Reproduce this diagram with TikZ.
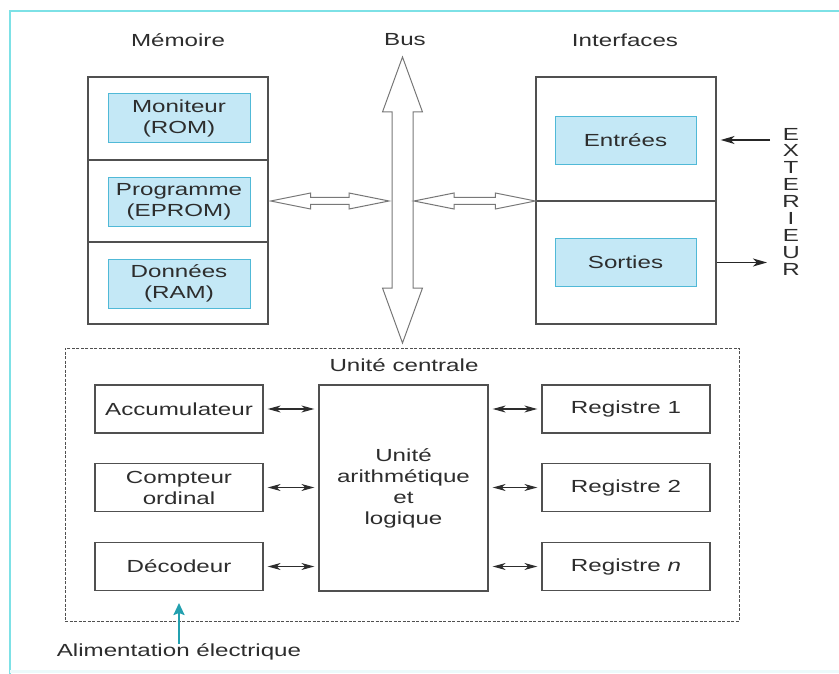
\documentclass[tikz,border=0pt]{standalone}
\usepackage{fontspec}
\setmainfont{Liberation Sans}[FakeStretch=1.38]
\usetikzlibrary{arrows.meta,calc}
\definecolor{framecyan}{RGB}{125,225,230}
\definecolor{boxfill}{RGB}{196,232,246}
\definecolor{boxline}{RGB}{80,185,215}
\definecolor{txtgray}{RGB}{45,45,45}
\definecolor{linegray}{RGB}{80,80,80}
\definecolor{fatgray}{RGB}{120,120,120}
\definecolor{powteal}{RGB}{35,160,175}
\tikzset{
  box/.style={draw=linegray, line width=1.3pt, inner sep=0pt, align=center, text=txtgray},
  cyanbox/.style={box, draw=boxline, line width=0.8pt, fill=boxfill, minimum width=142pt, minimum height=49pt},
  unitbox/.style={box, minimum width=168pt, minimum height=48pt},
  lbl/.style={inner sep=0pt, text=txtgray},
  fatline/.style={draw=fatgray, line width=1pt, line join=miter},
  fatdbl/.style={fatline, to path={let \p1=(\tikztostart), \p2=(\tikztotarget) in
    (\x1,\y1) -- (\x1+40pt,\y1+8pt) -- (\x1+40pt,\y1+3.5pt) -- (\x2-40pt,\y1+3.5pt)
    -- (\x2-40pt,\y1+8pt) -- (\x2,\y1) -- (\x2-40pt,\y1-8pt) -- (\x2-40pt,\y1-3.5pt)
    -- (\x1+40pt,\y1-3.5pt) -- (\x1+40pt,\y1-8pt) -- cycle}},
  smallarr/.style={<->, line width=1.2pt, draw=txtgray, shorten <=4pt, shorten >=4pt},
  extarr/.style={-{Stealth[length=14pt,width=8pt,inset=4pt]}, line width=1.4pt, draw=black!85},
}

\begin{document}
\begin{tikzpicture}[x=1pt,y=-1pt,line cap=butt,
  >={Stealth[length=13pt,width=7pt,inset=4pt]},
  font=\fontsize{17.5}{21}\selectfont]
\useasboundingbox (0,0) rectangle (839,674);
% frame
\draw[framecyan, line width=2.5pt] (10,674) -- (10,11) -- (839,11);
\draw[framecyan!15, line width=3pt] (10,671) -- (839,671);

% titles
\node[lbl] (memlbl) at (178,40) {Mémoire};
\node[lbl] (buslbl) at (405,40) {Bus};
\node[lbl] (intlbl) at (625,40) {Interfaces};

% memoire
\node[box, minimum width=180pt, minimum height=83pt] (mem1) at (178,118.5) {};
\node[box, minimum width=180pt, minimum height=82pt] (mem2) at (178,201) {};
\node[box, minimum width=180pt, minimum height=82pt] (mem3) at (178,283) {};
\node[cyanbox] (rom) at (179,118) {Moniteur\\(ROM)};
\node[cyanbox] (eprom) at (179,201.5) {Programme\\(EPROM)};
\node[cyanbox] (ram) at (179,283.5) {Données\\(RAM)};

% interfaces
\node[box, minimum width=180pt, minimum height=124pt] (int1) at (626,139) {};
\node[box, minimum width=180pt, minimum height=123pt] (int2) at (626,262.5) {};
\node[cyanbox, minimum width=141pt, minimum height=48pt] (ent) at (625.5,140) {Entrées};
\node[cyanbox, minimum width=141pt, minimum height=48pt] (sor) at (625.5,262) {Sorties};

% exterieur
\foreach \l [count=\i from 0] in {E,X,T,E,R,I,E,U,R}
  \node[lbl] (ext\i) at (791,134+16.9*\i) {\l};
\coordinate (extin) at (770,140);
\coordinate (extout) at (767,262.5);
\draw[extarr, shorten >=4pt] (extin) -- (ent -| int1.east);
\draw[extarr] (int2.east) -- (extout);

% bus
\coordinate (bustop) at (402.5,57);
\coordinate (busbot) at (402.5,343);
\coordinate (busL) at (389,201);
\coordinate (busR) at (414,201);
\draw[fatline] let \p1=(bustop), \p2=(busbot) in
  (\x1,\y1) -- (\x1+20pt,\y1-55pt) -- (\x1+10.5pt,\y1-55pt) -- (\x1+10.5pt,\y2+55pt)
  -- (\x1+20pt,\y2+55pt) -- (\x2,\y2) -- (\x1-20pt,\y2+55pt) -- (\x1-10.5pt,\y2+55pt)
  -- (\x1-10.5pt,\y1-55pt) -- (\x1-20pt,\y1-55pt) -- cycle;
\draw[fatdbl] ($(mem2.east)+(2,0)$) to (busL);
\draw[fatdbl] (busR) to (int1.south west);

% unite centrale
\node[draw=linegray, line width=1pt, dash pattern=on 3pt off 1.5pt,
  minimum width=674pt, minimum height=273pt, inner sep=0pt] (cpu) at (402,484.5) {};
\node[lbl] (cpulbl) at (404,365) {Unité centrale};
\node[unitbox] (acc) at (179,409) {Accumulateur};
\node[unitbox] (cpt) at (179,487.5) {Compteur\\ordinal};
\node[unitbox] (dec) at (179,566.5) {Décodeur};
\node[box, minimum width=169pt, minimum height=206pt] (alu) at (403.5,488)
  {Unité\\arithmétique\\et\\logique};
\node[unitbox] (reg1) at (626,409) {Registre 1};
\node[unitbox] (reg2) at (626,487.5) {Registre 2};
\node[unitbox] (regn) at (626,566.5) {Registre \textit{n}};
\foreach \b in {acc,cpt,dec}
  \draw[smallarr] (\b.east) -- (\b.east -| alu.west);
\foreach \b in {reg1,reg2,regn}
  \draw[smallarr] (\b.west -| alu.east) -- (\b.west);

% alimentation
\node[lbl] (alim) at (179,652) {Alimentation électrique};
\coordinate (powin) at (179,603);
\draw[-{Stealth[length=12pt,width=11pt,inset=2pt]}, powteal, line width=2.2pt] (alim.north) -- (powin);
\end{tikzpicture}
\end{document}
